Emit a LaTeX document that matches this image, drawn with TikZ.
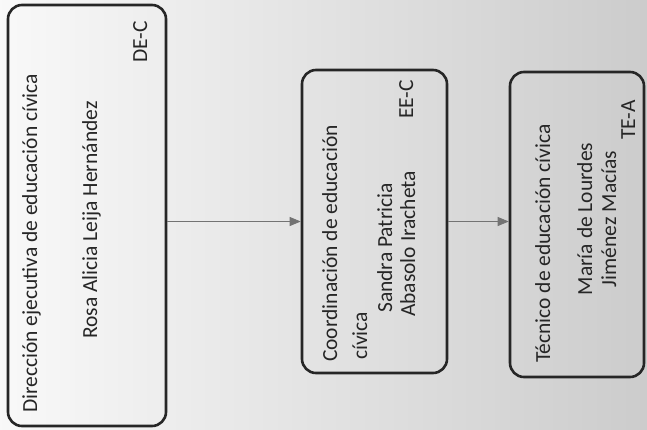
\documentclass[tikz,border=0pt]{standalone}
\usepackage{fontspec}
\setmainfont{Carlito}
\usetikzlibrary{arrows.meta}

\begin{document}
\begin{tikzpicture}[
    x=1pt, y=-1pt,
    orgbox/.style={rectangle, draw=black!85, line width=2.6pt, rounded corners=14pt},
    lbl/.style={font=\fontsize{21.5}{26}\selectfont, rotate=90, inner sep=0pt, text=black!85},
    arrow/.style={-{Triangle[length=11pt, width=9pt]}, draw=black!55, line width=0.8pt}
]

% Background
\useasboundingbox (0,0) rectangle (647,429);
\shade[left color=gray!5, right color=gray!40] (0,0) rectangle (647,429);

% Boxes
\node[orgbox, minimum width=158, minimum height=421] (dec) at (87,215.5) {};
\node[orgbox, minimum width=145, minimum height=303] (eec) at (374.5,221.5) {};
\node[orgbox, minimum width=134, minimum height=305] (tec) at (577,224.5) {};

% Dirección ejecutiva
\node[lbl, anchor=base west] (dectitle) at (37,413) {Dirección ejecutiva de educación cívica};
\node[lbl, anchor=base] (decname) at (97,220) {Rosa Alicia Leija Hernández};
\node[lbl, anchor=base west] (deccode) at (147,63) {DE-C};

% Coordinación
\node[lbl, anchor=base west] (eectitle) at (337,362) {Coordinación de educación};
\node[lbl, anchor=base west] (eectitleb) at (367,360) {cívica};
\node[lbl, anchor=base west] (eecname) at (392,313) {Sandra Patricia};
\node[lbl, anchor=base west] (eecnameb) at (415,317) {Abasolo Iracheta};
\node[lbl, anchor=base east] (eeccode) at (413,80) {EE-C};

% Técnico
\node[lbl, anchor=base west] (tectitle) at (550,363) {Técnico de educación cívica};
\node[lbl, anchor=base] (tecname) at (592,219) {María de Lourdes};
\node[lbl, anchor=base] (tecnameb) at (616,219) {Jiménez Macías};
\node[lbl, anchor=base west] (teccode) at (635,140) {TE-A};

% Arrows
\draw[arrow] (dec.east |- eec.west) -- (eec.west);
\draw[arrow] (eec.east) -- (eec.east -| tec.west);

\end{tikzpicture}
\end{document}
